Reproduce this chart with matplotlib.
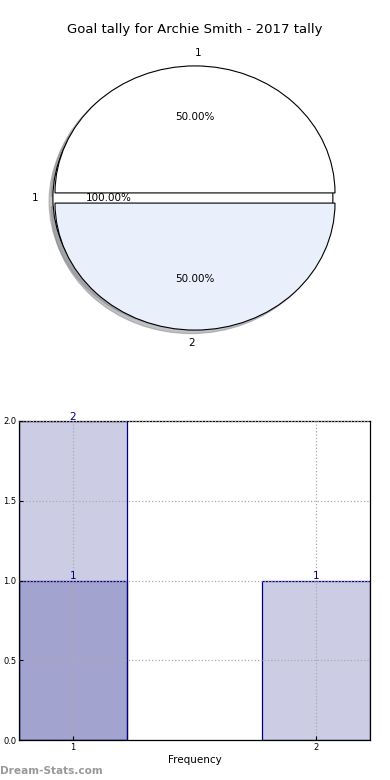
import matplotlib
matplotlib.use("Agg")
import matplotlib.pyplot as plt

# ---- data ----
title = "Goal tally for Archie Smith - 2017 tally"
pie_labels = ["1", "2"]
pie_values = [1, 1]
pie_colors = ["#ffffff", "#eaf0fb"]
inner_labels = ["1"]
inner_values = [1]

bar_x = [1, 2]
bar_heights = [2, 1]
overlay_x = [1]
overlay_heights = [1]
x_ticks = [1, 2]
y_ticks = [0.0, 0.5, 1.0, 1.5, 2.0]
x_label = "Frequency"
watermark = "Dream-Stats.com"

fig = plt.figure(figsize=(3.9, 7.8), dpi=100)

# ---- pie ----
ax1 = fig.add_axes([20 / 390, 1 - 356.75 / 780, 350 / 390, 317.5 / 780])
shadow_style = {"ox": -0.02, "oy": -0.02, "shade": 0.45}
_, t_in, _ = ax1.pie(inner_values, labels=inner_labels, colors=["#ffffff"], autopct="%.2f%%",
                     shadow=shadow_style, startangle=0, center=(-0.015, 0.0),
                     wedgeprops=dict(edgecolor="black", linewidth=0.8),
                     textprops=dict(fontsize=7.5))
_, t_out, _ = ax1.pie(pie_values, labels=pie_labels, colors=pie_colors, autopct="%.2f%%",
                      shadow=shadow_style, startangle=0, explode=[0.04, 0.04],
                      wedgeprops=dict(edgecolor="black", linewidth=0.8),
                      textprops=dict(fontsize=7.5))
t_out[0].set_ha("left")
t_out[1].set_ha("right")
ax1.set_aspect("auto")
ax1.set_xlim(-1.25, 1.25)
ax1.set_ylim(-1.25, 1.25)
fig.text(0.5, 1 - 30 / 780, title, ha="center", va="center", fontsize=9.5)

# ---- bars ----
ax2 = fig.add_axes([19 / 390, 40 / 780, 351 / 390, 319 / 780])
w = 0.444
ax2.bar(bar_x, bar_heights, width=w, color="navy", alpha=0.2, edgecolor="none")
ax2.bar(bar_x, bar_heights, width=w, facecolor="none", edgecolor="navy", linewidth=0.9)
ax2.bar(overlay_x, overlay_heights, width=w, color="navy", alpha=0.2, edgecolor="none")
ax2.bar(overlay_x, overlay_heights, width=w, facecolor="none", edgecolor="navy", linewidth=0.9)
for xs, hs in ((bar_x, bar_heights), (overlay_x, overlay_heights)):
    for x, h in zip(xs, hs):
        ax2.text(x, h - 0.005, str(h), ha="center", va="bottom", color="navy", fontsize=7.5)

ax2.set_xlim(bar_x[0] - w / 2, bar_x[-1] + w / 2)
ax2.set_ylim(0, 2.0)
ax2.set_xticks(x_ticks)
ax2.set_xticklabels([str(t) for t in x_ticks])
ax2.set_yticks(y_ticks)
ax2.set_yticklabels([f"{t:.1f}" for t in y_ticks])
ax2.tick_params(labelsize=6, length=3, direction="in", pad=2)
ax2.set_axisbelow(False)
ax2.grid(True, linestyle=":", color="#aaaaaa", linewidth=0.9)
ax2.set_xlabel(x_label, fontsize=7.5, labelpad=2)
for s in ax2.spines.values():
    s.set_linewidth(0.9)

fig.text(0.0, 1 - 771 / 780, watermark, ha="left", va="center", fontsize=7.6,
         color="#999999", fontweight="bold")

fig.savefig("out.png", dpi=100)
